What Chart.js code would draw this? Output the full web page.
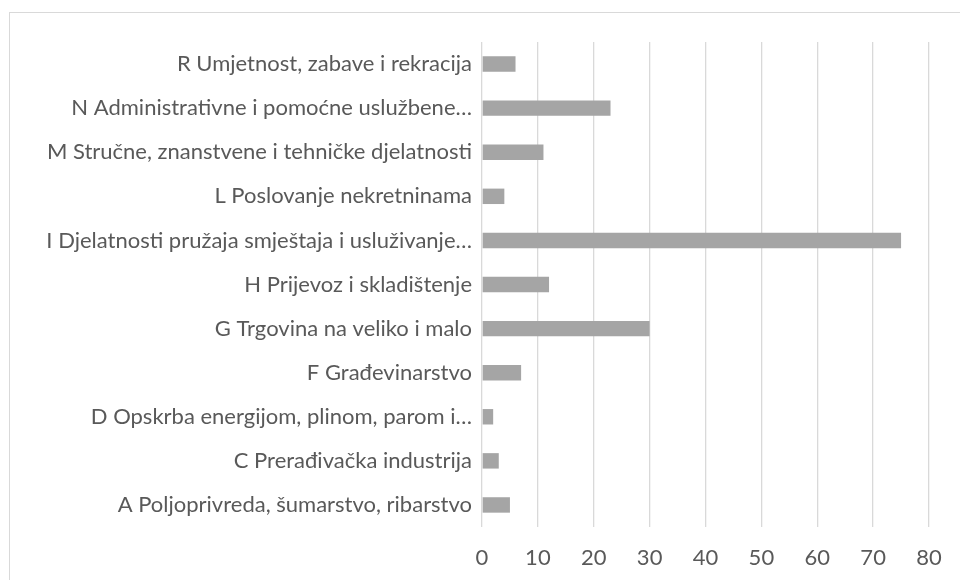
<!DOCTYPE html>
<html>
<head>
<meta charset="utf-8">
<script src="https://cdn.jsdelivr.net/npm/chart.js@4.4.1/dist/chart.umd.min.js"></script>
<style>
  html, body { margin: 0; padding: 0; background: #fff; }
  #okvir {
    position: absolute; left: 0; top: 0; width: 960px; height: 580px; overflow: hidden;
  }
  #rub {
    position: absolute; left: 9px; top: 12px; width: 1000px; height: 700px;
    border-left: 1.5px solid #d9d9d9; border-top: 1.5px solid #d9d9d9;
  }
  canvas { position: absolute; left: 0; top: 0; }
</style>
</head>
<body>
<div id="okvir">
  <div id="rub"></div>
  <canvas id="grafikon" width="960" height="580"></canvas>
</div>
<script>
// Djelatnosti (od vrha prema dnu)
const djelatnosti = [
    'R Umjetnost, zabave i rekracija',
    'N Administrativne i pomoćne uslužbene…',
    'M Stručne, znanstvene i tehničke djelatnosti',
    'L Poslovanje nekretninama',
    'I Djelatnosti pružaja smještaja i usluživanje…',
    'H Prijevoz i skladištenje',
    'G Trgovina na veliko i malo',
    'F Građevinarstvo',
    'D Opskrba energijom, plinom, parom i…',
    'C Prerađivačka industrija',
    'A Poljoprivreda, šumarstvo, ribarstvo'
];
const broj = [6, 23, 11, 4, 75, 12, 30, 7, 2, 3, 5];
const osMin = 0;
const osMax = 80;
const osKorak = 10;

const ctx = document.getElementById('grafikon').getContext('2d');
new Chart(ctx, {
    type: 'bar',
    data: {
        labels: djelatnosti,
        datasets: [{
            data: broj,
            backgroundColor: '#a5a5a5',
            borderWidth: 0,
            barPercentage: 0.5,
            categoryPercentage: 0.7
        }]
    },
    options: {
        indexAxis: 'y',
        responsive: false,
        animation: false,
        layout: { padding: { top: 42, right: 31, left: 0, bottom: 0 } },
        plugins: { legend: { display: false }, tooltip: { enabled: false } },
        scales: {
            x: {
                min: osMin,
                max: osMax,
                ticks: {
                    stepSize: osKorak,
                    padding: 18,
                    color: '#595959',
                    font: { family: 'Lato', size: 22 }
                },
                grid: { color: '#d9d9d9', lineWidth: 1.3, drawTicks: false },
                border: { display: false },
                afterFit: s => { s.height = 53; }
            },
            y: {
                ticks: {
                    padding: 10,
                    color: '#595959',
                    font: { family: 'Lato', size: 22 },
                    autoSkip: false
                },
                grid: { display: false, drawTicks: false },
                border: { display: false },
                afterFit: s => { s.width = 482; }
            }
        }
    }
});
</script>
</body>
</html>
